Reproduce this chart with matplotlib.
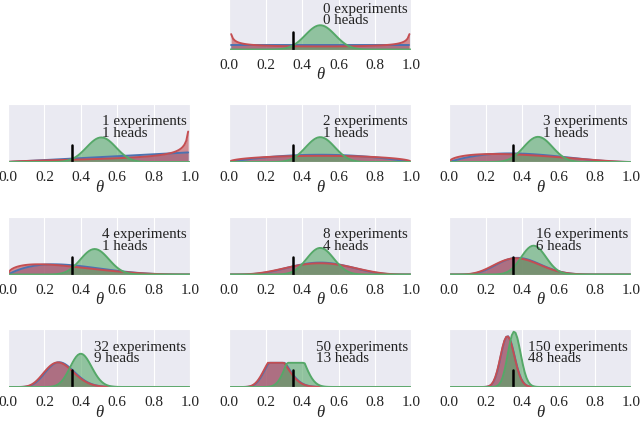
import math
import numpy as np
import matplotlib
matplotlib.use("Agg")
import matplotlib.pyplot as plt
import seaborn as sns

sns.set_style("darkgrid")
plt.rcParams['font.family'] = ['Liberation Serif', 'DejaVu Serif']
plt.rcParams['mathtext.fontset'] = 'stix'

# ---- data ----
theta_real = 0.35
trials = [0, 1, 2, 3, 4, 8, 16, 32, 50, 150]
heads = [0, 1, 1, 1, 1, 4, 6, 9, 13, 48]
beta_priors = [(1.0, 1.0), (0.5, 0.5), (20.0, 20.0)]
prior_colors = ['#4C72B0', '#C44E52', '#55A868']
panel_cap = [None, None, None, None, None, None, None, None, 5.0, None]
xticks = [0.0, 0.2, 0.4, 0.6, 0.8, 1.0]
xticklabels = ['0.0', '0.2', '0.4', '0.6', '0.8', '1.0']


def beta_pdf(x, a, b):
    logc = math.lgamma(a + b) - math.lgamma(a) - math.lgamma(b)
    with np.errstate(divide='ignore', invalid='ignore'):
        y = np.exp(logc + (a - 1) * np.log(x) + (b - 1) * np.log1p(-x))
    y[~np.isfinite(y)] = np.nan
    return y


W, H = 640, 421
fig = plt.figure(figsize=(6.4, 4.21), dpi=100)
col_left = [8, 229.3, 449.3]
row_top = [-8.5, 104, 216.5, 329]
ax_w, ax_h = 182, 58

x = np.linspace(0, 1, 100)
for idx, N in enumerate(trials):
    if idx == 0:
        r, c = 0, 1
    else:
        r, c = (idx - 1) // 3 + 1, (idx - 1) % 3
    left = col_left[c] / W
    bottom = (H - (row_top[r] + ax_h)) / H
    ax = fig.add_axes([left, bottom, ax_w / W, ax_h / H])
    y = heads[idx]
    for (a0, b0), col in zip(beta_priors, prior_colors):
        p = beta_pdf(x, a0 + y, b0 + N - y)
        if panel_cap[idx] is not None:
            p = np.minimum(p, panel_cap[idx])
        ax.plot(x, p, color=col, lw=1.4)
        ax.fill_between(x, 0, p, color=col, alpha=0.6, lw=0)
    ax.axvline(theta_real, ymax=0.3, color='k', lw=1.8)
    ax.plot(0, 0, label="{:d} experiments\n{:d} heads".format(N, y), alpha=0)
    ax.set_xlim(0, 1)
    ax.set_ylim(0, 12)
    ax.set_xticks(xticks)
    ax.set_xticklabels(xticklabels, fontsize=11)
    ax.tick_params(axis='x', pad=6.5, colors='#222222', length=0)
    ax.set_xlabel('θ', fontsize=12, style='italic', labelpad=-3)
    leg = ax.legend(loc='upper right', frameon=False, fontsize=10.8,
                    bbox_to_anchor=(1 - 3.5 / ax_w, 1 - 11.5 / ax_h),
                    borderaxespad=0.0, labelspacing=0.0, handlelength=1.0,
                    handletextpad=0.4, borderpad=0.0)
    for t in leg.get_texts():
        t.set_linespacing(0.85)
        t.set_color('#222222')
    ax.get_yaxis().set_visible(False)

fig.savefig('out.png', dpi=100)
